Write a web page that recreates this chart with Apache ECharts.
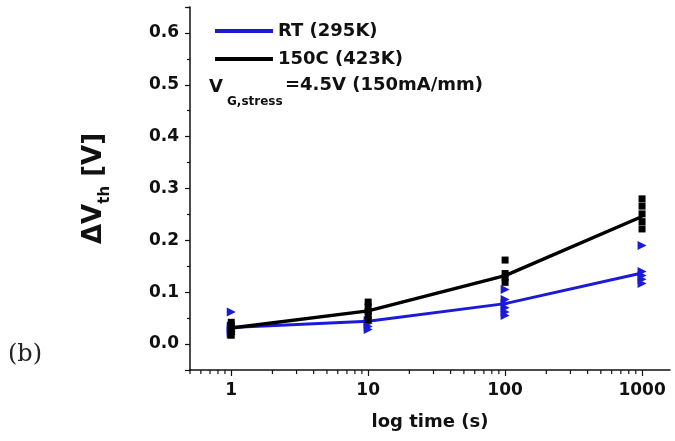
<!DOCTYPE html>
<html>
<head>
<meta charset="utf-8">
<script src="https://cdn.jsdelivr.net/npm/echarts@6/dist/echarts.min.js"></script>
<style>html,body{margin:0;padding:0;background:#fff}#c{width:675px;height:441px}</style>
</head>
<body>
<div id="c"></div>
<script>
// ---- data ----
const times = [1, 10, 100, 1000];
const rtMean = [0.032, 0.044, 0.078, 0.137];
const hotMean = [0.031, 0.064, 0.132, 0.246];
const rtPoints = [
  [0.062, 0.035, 0.029, 0.024, 0.019],
  [0.045, 0.040, 0.034, 0.028],
  [0.105, 0.086, 0.078, 0.070, 0.062, 0.055],
  [0.190, 0.140, 0.132, 0.125, 0.117]
];
const hotPoints = [
  [0.042, 0.036, 0.030, 0.024, 0.017],
  [0.081, 0.072, 0.063, 0.055, 0.047],
  [0.162, 0.136, 0.128, 0.119],
  [0.280, 0.266, 0.251, 0.236, 0.222]
];
const yTickLabels = ['0.0', '0.1', '0.2', '0.3', '0.4', '0.5', '0.6'];
const xTickLabels = ['1', '10', '100', '1000'];
const xMinorTicks = [0.5, 0.6, 0.7, 0.8, 0.9, 2, 3, 4, 5, 6, 7, 8, 9,
  20, 30, 40, 50, 60, 70, 80, 90, 200, 300, 400, 500, 600, 700, 800, 900];

const seriesNames = ['RT (295K)', '150C (423K)'];
const BLUE = '#1a1ad8';
const FONT = 'DejaVu Sans';

function pairs(ts, vals) { return ts.map((t, i) => [t, vals[i]]); }
function cloud(ts, pts) {
  const out = [];
  ts.forEach((t, i) => pts[i].forEach(v => out.push([t, v])));
  return out;
}

const chart = echarts.init(document.getElementById('c'), null, {renderer: 'canvas'});
chart.setOption({
  backgroundColor: '#fff',
  animation: false,
  grid: {left: 190, right: 5, top: 7, bottom: 71, containLabel: false},
  xAxis: {
    type: 'log', logBase: 10, min: 0.5, max: 1600,
    name: 'log time (s)', nameLocation: 'middle', nameGap: 43,
    nameTextStyle: {fontFamily: FONT, fontWeight: 'bold', fontSize: 18, color: '#111'},
    axisLine: {show: true, onZero: false, lineStyle: {color: '#111', width: 1.5}},
    axisTick: {show: true, inside: false, length: 6, lineStyle: {color: '#111', width: 1.2}},
    axisLabel: {showMinLabel: false, showMaxLabel: false, margin: 12,
      fontFamily: FONT, fontWeight: 'bold', fontSize: 17, color: '#111',
      formatter: v => xTickLabels.find(s => Math.abs(parseFloat(s) - v) < 1e-6 * Math.max(1, v)) || ''},
    splitLine: {show: false}
  },
  yAxis: {
    type: 'value', min: -0.05, max: 0.65, splitNumber: 7,
    name: '{a|ΔV}{b|th}{a| [V]}', nameLocation: 'middle', nameRotate: 90, nameGap: 77,
    nameTextStyle: {
      rich: {
        a: {fontFamily: FONT, fontWeight: 'bold', fontSize: 26, color: '#111', lineHeight: 38},
        b: {fontFamily: FONT, fontWeight: 'bold', fontSize: 15, color: '#111', lineHeight: 12, verticalAlign: 'bottom'}
      }
    },
    axisLine: {show: true, onZero: false, lineStyle: {color: '#111', width: 1.5}},
    axisTick: {show: true, inside: false, length: 5, lineStyle: {color: '#111', width: 1.2}},
    minorTick: {show: true, splitNumber: 2, length: 3, lineStyle: {color: '#111', width: 1.2}},
    axisLabel: {showMinLabel: false, showMaxLabel: false, margin: 11,
      fontFamily: FONT, fontWeight: 'bold', fontSize: 17, color: '#111',
      formatter: v => yTickLabels.find(s => Math.abs(parseFloat(s) - v) < 1e-6) || ''},
    splitLine: {show: false}
  },
  legend: {
    data: seriesNames, orient: 'vertical', left: 210, top: 17,
    icon: 'rect', itemWidth: 58, itemHeight: 4, itemGap: 10,
    textStyle: {fontFamily: FONT, fontWeight: 'bold', fontSize: 18, color: '#111'},
    selectedMode: false
  },
  graphic: [
    {type: 'text', left: 209, top: 78, style: {text: 'V', font: 'bold 18px "DejaVu Sans"', fill: '#111'}},
    {type: 'text', left: 227, top: 96, style: {text: 'G,stress', font: 'bold 12px "DejaVu Sans"', fill: '#111'}},
    {type: 'text', left: 285, top: 76, style: {text: '=4.5V (150mA/mm)', font: 'bold 18px "DejaVu Sans"', fill: '#111'}},
    {type: 'text', left: 8, top: 343, style: {text: '(b)', font: '24px "DejaVu Serif"', fill: '#222'}}
  ],
  series: [
    {name: seriesNames[0], type: 'line', data: pairs(times, rtMean), showSymbol: false,
      lineStyle: {color: BLUE, width: 3}, itemStyle: {color: BLUE}, z: 2},
    {name: seriesNames[1], type: 'line', data: pairs(times, hotMean), showSymbol: false,
      lineStyle: {color: '#000', width: 3.5}, itemStyle: {color: '#000'}, z: 3},
    {name: 'RT points', type: 'scatter', data: cloud(times, rtPoints), symbol: 'triangle',
      symbolRotate: -90, symbolSize: 9, itemStyle: {color: BLUE, opacity: 1}, z: 4},
    {name: '150C points', type: 'scatter', data: cloud(times, hotPoints), symbol: 'rect',
      symbolSize: 7, itemStyle: {color: '#000', opacity: 1}, z: 5},
    {name: 'x minor ticks', type: 'custom', data: xMinorTicks.map(v => [v, -0.05]), silent: true,
      clip: false, z: 1,
      renderItem: (params, api) => {
        const p = api.coord([api.value(0), api.value(1)]);
        return {type: 'line', shape: {x1: p[0], y1: p[1], x2: p[0], y2: p[1] + 4},
          style: {stroke: '#111', lineWidth: 1.2}};
      }}
  ]
});
</script>
</body>
</html>
